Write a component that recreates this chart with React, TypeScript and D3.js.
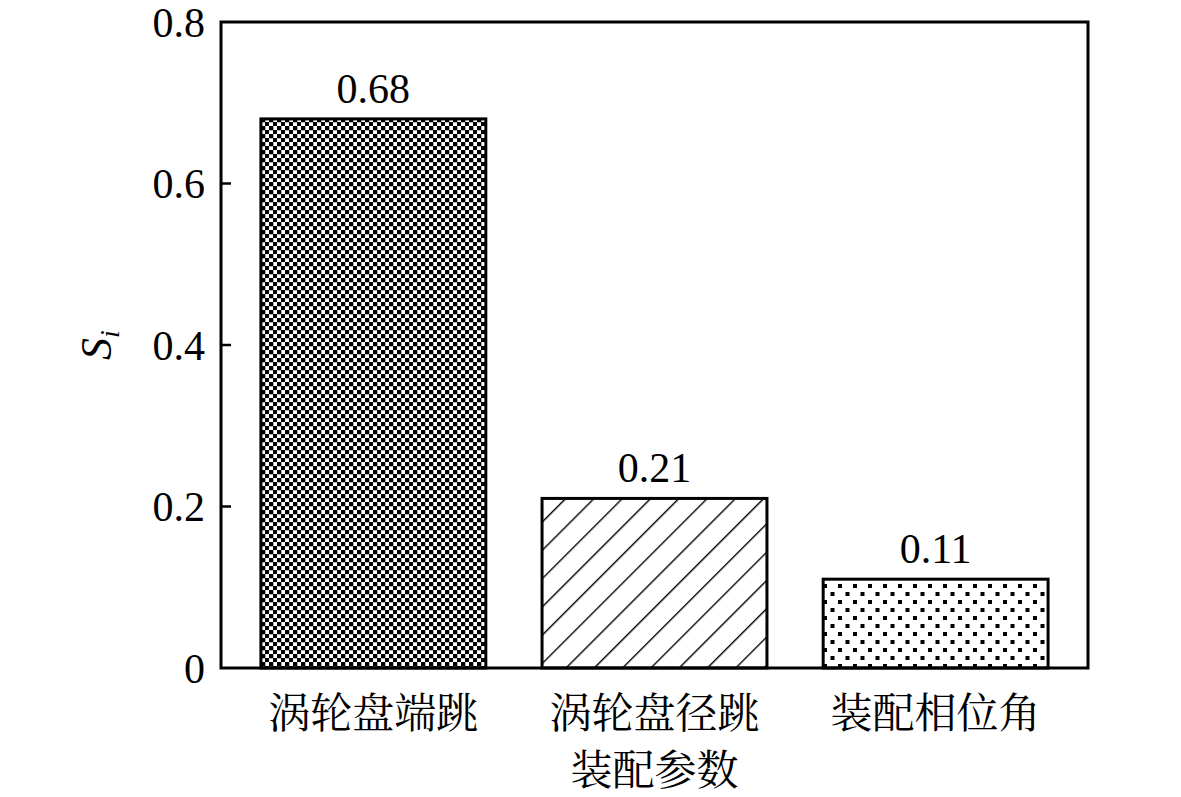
import React from "react"
import * as d3 from "d3"

// 数据
const categories = ["涡轮盘端跳", "涡轮盘径跳", "装配相位角"]
const values = [0.68, 0.21, 0.11]
const valueLabels = ["0.68", "0.21", "0.11"]
const yTicks = [0, 0.2, 0.4, 0.6, 0.8]
const yTickLabels = ["0", "0.2", "0.4", "0.6", "0.8"]
const patterns = ["checker", "hatch", "dots"]

const W = 1181
const H = 797
const margin = { top: 22, right: 93, bottom: 129, left: 221 }
const serif = "'Liberation Serif', 'Times New Roman', 'Noto Serif CJK SC', 'Noto Sans CJK SC', serif"
const cjk = "'Noto Serif CJK SC', 'Noto Sans CJK SC', 'Liberation Serif', serif"

export default function App() {
  const innerW = W - margin.left - margin.right
  const innerH = H - margin.top - margin.bottom

  const x = d3
    .scaleBand<string>()
    .domain(categories)
    .range([0, innerW])
    .paddingInner(0.2)
    .paddingOuter(0.142)

  const y = d3.scaleLinear().domain([0, 0.8]).range([innerH, 0])

  return (
    <svg
      width={W}
      height={H}
      style={{ position: "absolute", left: 0, top: 0, background: "#fff" }}
    >
      <defs>
        <pattern id="checker" width={8} height={8} patternUnits="userSpaceOnUse">
          <rect width={8} height={8} fill="#fff" />
          <rect width={4.3} height={4.3} fill="#000" />
          <rect x={4} y={4} width={4.3} height={4.3} fill="#000" />
        </pattern>
        <pattern
          id="hatch"
          width={20}
          height={20}
          patternUnits="userSpaceOnUse"
          patternTransform="rotate(45)"
        >
          <rect width={20} height={20} fill="#fff" />
          <line x1={0} y1={0} x2={0} y2={20} stroke="#000" strokeWidth={2.8} />
        </pattern>
        <pattern id="dots" width={15} height={16} patternUnits="userSpaceOnUse">
          <rect width={15} height={16} fill="#fff" />
          <rect x={2} y={2} width={4} height={4} fill="#000" />
          <rect x={9.5} y={10} width={4} height={4} fill="#000" />
        </pattern>
      </defs>

      <g transform={`translate(${margin.left},${margin.top})`}>
        {/* 柱子 */}
        {categories.map((c, i) => (
          <g key={c}>
            <rect
              x={x(c)}
              y={y(values[i])}
              width={x.bandwidth()}
              height={innerH - y(values[i])}
              fill={`url(#${patterns[i]})`}
              stroke="#000"
              strokeWidth={3}
            />
            <text
              x={(x(c) ?? 0) + x.bandwidth() / 2}
              y={y(values[i]) - 16}
              textAnchor="middle"
              fontFamily={serif}
              fontSize={42}
            >
              {valueLabels[i]}
            </text>
            <text
              x={(x(c) ?? 0) + x.bandwidth() / 2}
              y={innerH + 60}
              textAnchor="middle"
              fontFamily={cjk}
              fontSize={42}
            >
              {c}
            </text>
          </g>
        ))}

        {/* 外框 */}
        <rect
          x={0}
          y={0}
          width={innerW}
          height={innerH}
          fill="none"
          stroke="#000"
          strokeWidth={3}
        />

        {/* y 轴刻度 */}
        {yTicks.map((t, i) => (
          <g key={t} transform={`translate(0,${y(t)})`}>
            {t > 0 && t < 0.8 && (
              <line x1={0} x2={10} stroke="#000" strokeWidth={2.5} />
            )}
            <text
              x={-16}
              dy="0.35em"
              textAnchor="end"
              fontFamily={serif}
              fontSize={42}
            >
              {yTickLabels[i]}
            </text>
          </g>
        ))}

        {/* 轴标题 */}
        <text
          transform={`translate(${-110},${innerH / 2}) rotate(-90)`}
          textAnchor="middle"
          fontFamily={serif}
          fontSize={44}
        >
          <tspan fontStyle="italic">S</tspan>
          <tspan fontStyle="italic" fontSize={28} dy={8}>
            i
          </tspan>
        </text>
        <text
          x={innerW / 2}
          y={innerH + 117}
          textAnchor="middle"
          fontFamily={cjk}
          fontSize={42}
        >
          装配参数
        </text>
      </g>
    </svg>
  )
}
